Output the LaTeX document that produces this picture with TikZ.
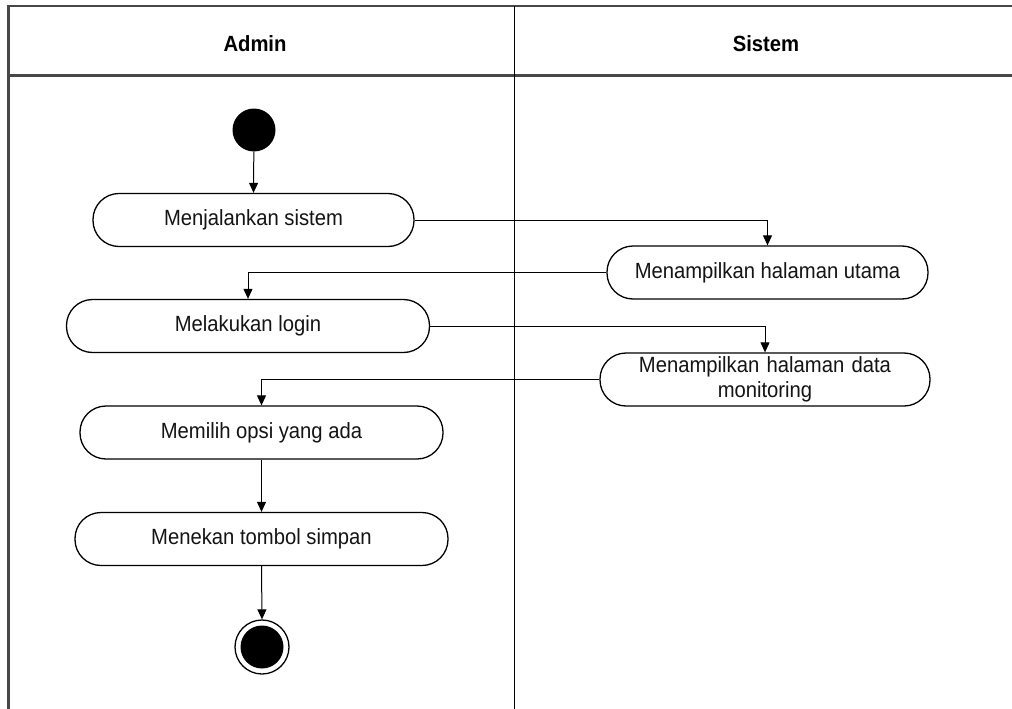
\documentclass[tikz,border=0pt]{standalone}
\usepackage{fontspec}
\setmainfont[FakeStretch=0.92]{Liberation Sans}
\usetikzlibrary{arrows.meta}
\tikzset{
  act/.style={draw=black, line width=1.3pt, rounded corners=26pt, minimum height=53pt, inner sep=0pt, align=center, text=black!92, font=\fontsize{22}{25}\selectfont},
  flow/.style={draw=black, line width=1pt, -{Triangle[length=10pt,width=9pt]}},
  lane/.style={draw=black!72, line width=2.4pt},
  hdr/.style={font=\bfseries\fontsize{22}{24}\selectfont, text=black}
}
\begin{document}
\begin{tikzpicture}[x=1pt,y=-1pt]
\useasboundingbox (0,0) rectangle (1012,709);
\clip (0,0) rectangle (1012,709);
\fill[white] (0,0) rectangle (1012,709);
% swimlanes
\draw[lane] (8.5,6.3) rectangle (1025,725);
\draw[lane] (8.5,75.5) -- (1025,75.5);
\draw[draw=black, line width=1.4pt] (514.5,6.3) -- (514.5,725);
\node[hdr] (hadmin) at (255,44) {Admin};
\node[hdr] (hsistem) at (766,44) {Sistem};
% nodes
\node[fill=black, circle, minimum size=43pt, inner sep=0pt] (start) at (254,130) {};
\node[act, minimum width=321pt] (a1) at (253.5,220) {Menjalankan sistem};
\node[act, minimum width=321pt] (s1) at (767.5,272.5) {Menampilkan halaman utama};
\node[act, minimum width=363pt] (a2) at (248,326) {Melakukan login};
\node[act, minimum width=330pt, text width=310pt] (s2) at (765,379.5) {Menampilkan halaman data\\monitoring};
\node[act, minimum width=363pt] (a3) at (261.5,432.5) {Memilih opsi yang ada};
\node[act, minimum width=373pt] (a4) at (261.5,539) {Menekan tombol simpan};
\node[draw=black, line width=1.3pt, circle, minimum size=54pt, inner sep=0pt] (end) at (262,647) {};
\fill[black] (end.center) circle (21.5pt);
% connectors
\draw[flow] (start) -- (a1.north);
\draw[flow] (a1.east) -| (s1.north);
\draw[flow] (s1.west) -| (a2.north);
\draw[flow] (a2.east) -| (s2.north);
\draw[flow] (s2.west) -| (a3.north);
\draw[flow] (a3.south) -- (a4.north);
\draw[flow] (a4.south) -- (end.north);
\end{tikzpicture}
\end{document}
